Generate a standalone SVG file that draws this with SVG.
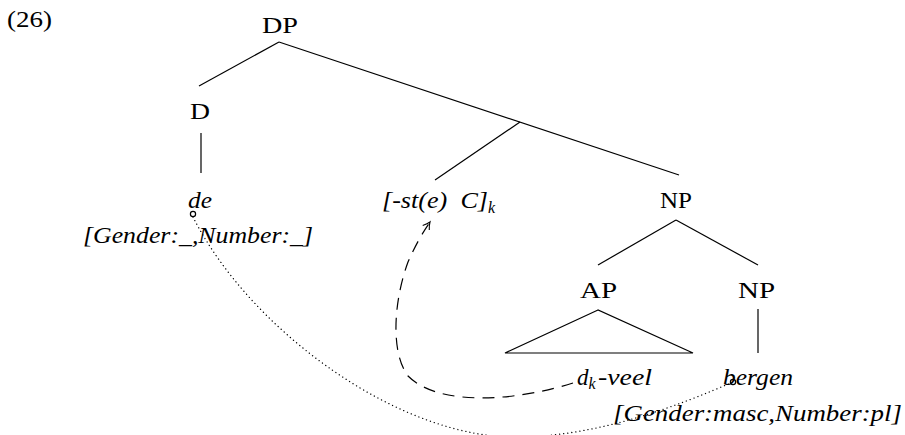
<svg xmlns="http://www.w3.org/2000/svg" width="905" height="435" viewBox="0 0 905 435">
<style>
text{font-family:"Liberation Serif","DejaVu Serif",serif;font-size:23px;fill:#000}
.it{font-style:italic}
.e{stroke:#000;stroke-width:1.2;fill:none}
.dash{stroke:#000;stroke-width:1.2;fill:none;stroke-dasharray:12 8}
.dot{stroke:#000;stroke-width:1.3;fill:none;stroke-dasharray:0.1 4;stroke-linecap:round}
.sub{font-size:16px}
</style>
<defs>
<marker id="arr" viewBox="-8 -5 10 10" markerWidth="10" markerHeight="10" refX="0" refY="0" orient="auto" markerUnits="userSpaceOnUse">
<path d="M-7,-4 Q-3,-1 0,0 Q-3,1 -7,4" fill="none" stroke="#000" stroke-width="1.1"/>
</marker>
</defs>
<text x="7" y="27" textLength="45" lengthAdjust="spacingAndGlyphs">(26)</text>
<g id="connectors">
<line class="e" x1="279" y1="42" x2="199" y2="86"/>
<line class="e" x1="279" y1="42" x2="679" y2="175"/>
<line class="e" x1="520" y1="122" x2="435" y2="180"/>
<line class="e" x1="201" y1="133" x2="201" y2="173"/>
<line class="e" x1="676" y1="220" x2="598" y2="265"/>
<line class="e" x1="676" y1="220" x2="758" y2="265"/>
<polygon class="e" points="598,310 505,353 693,353"/>
<line class="e" x1="758" y1="309" x2="758" y2="353"/>
<path class="dash" d="M573,383 C520,400 440,408 408,376 C390,352 394,300 408,262 C416,244 423,232 430,222" marker-end="url(#arr)"/>
<path class="dot" d="M193,217 C250,330 400,440 520,437 C600,436 680,405 733,382"/>
<circle cx="193" cy="214" r="2.6" class="e" stroke-width="0.9"/>
<circle cx="733" cy="382" r="2.6" class="e" stroke-width="0.9"/>
</g>
<g id="DP"><text x="262" y="33" textLength="36" lengthAdjust="spacingAndGlyphs">DP</text></g>
<g id="D"><text x="190" y="119" textLength="20" lengthAdjust="spacingAndGlyphs">D</text></g>
<g id="de"><text class="it" x="188" y="208" textLength="24" lengthAdjust="spacingAndGlyphs">de</text>
<text class="it" x="83" y="243" textLength="230" lengthAdjust="spacingAndGlyphs">[Gender:_,Number:_]</text></g>
<g id="st"><text class="it" x="382" y="208"><tspan textLength="106" lengthAdjust="spacingAndGlyphs">[-st(e)&#160; C]</tspan><tspan class="sub" dy="5">k</tspan></text></g>
<g id="NP1"><text x="660" y="208" textLength="32" lengthAdjust="spacingAndGlyphs">NP</text></g>
<g id="AP"><text x="580" y="298" textLength="37" lengthAdjust="spacingAndGlyphs">AP</text></g>
<g id="NP2"><text x="738" y="298" textLength="37" lengthAdjust="spacingAndGlyphs">NP</text></g>
<g id="dkveel"><text class="it" x="577" y="385">d<tspan class="sub" dy="4">k</tspan><tspan x="598" dy="-4" textLength="54" lengthAdjust="spacingAndGlyphs">-veel</tspan></text></g>
<g id="bergen"><text class="it" x="723" y="385" textLength="70" lengthAdjust="spacingAndGlyphs">bergen</text>
<text class="it" x="613" y="421" textLength="289" lengthAdjust="spacingAndGlyphs">[Gender:masc,Number:pl]</text></g>
</svg>
